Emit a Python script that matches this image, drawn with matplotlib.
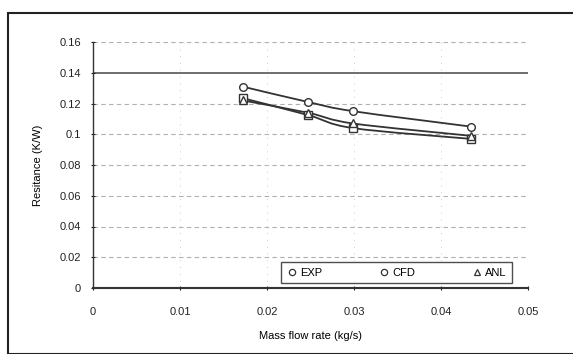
import matplotlib
matplotlib.use("Agg")
import matplotlib.pyplot as plt
from matplotlib.path import Path
from matplotlib.patches import PathPatch, Rectangle
from matplotlib.lines import Line2D

plt.rcParams['font.family'] = ['Liberation Sans', 'DejaVu Sans']

mass_flow = [0.0172, 0.0247, 0.0299, 0.0434]
exp_vals = [0.131, 0.121, 0.115, 0.105]
cfd_vals = [0.1235, 0.1125, 0.104, 0.097]
anl_vals = [0.122, 0.114, 0.107, 0.099]
series_names = ["EXP", "CFD", "ANL"]
x_ticks = [0, 0.01, 0.02, 0.03, 0.04, 0.05]
x_ticklabels = ["0", "0.01", "0.02", "0.03", "0.04", "0.05"]
y_ticks = [0, 0.02, 0.04, 0.06, 0.08, 0.1, 0.12, 0.14, 0.16]
y_ticklabels = ["0", "0.02", "0.04", "0.06", "0.08", "0.1", "0.12", "0.14", "0.16"]

fig = plt.figure(figsize=(5.73, 3.54), dpi=100)
ax = fig.add_axes([93/573, 1-288/354, 435/573, 246/354])

def smooth_path(xs, ys):
    # Catmull-Rom style Bezier through the data points (Excel-like smoothing)
    n = len(xs)
    verts = [(xs[0], ys[0])]
    codes = [Path.MOVETO]
    for i in range(n-1):
        x0, y0 = (xs[i-1], ys[i-1]) if i > 0 else (xs[i], ys[i])
        x1, y1 = xs[i], ys[i]
        x2, y2 = xs[i+1], ys[i+1]
        x3, y3 = (xs[i+2], ys[i+2]) if i+2 < n else (xs[i+1], ys[i+1])
        t = 1/6
        c1 = (x1 + (x2-x0)*t, y1 + (y2-y0)*t)
        c2 = (x2 - (x3-x1)*t, y2 - (y3-y1)*t)
        verts += [c1, c2, (x2, y2)]
        codes += [Path.CURVE4]*3
    return Path(verts, codes)

markers = ['o', 's', '^']
for vals, m in zip([exp_vals, cfd_vals, anl_vals], markers):
    ax.add_patch(PathPatch(smooth_path(mass_flow, vals), facecolor='none',
                           edgecolor='#333333', lw=1.3, zorder=3))
    ax.plot(mass_flow, vals, linestyle='none', marker=m, markersize=5.5,
            markerfacecolor='white', markeredgecolor='#333333', markeredgewidth=1.0, zorder=4)

ax.set_xlim(0, 0.05)
ax.set_ylim(0, 0.16)
ax.set_xticks(x_ticks)
ax.set_xticklabels(x_ticklabels)
ax.set_yticks(y_ticks)
ax.set_yticklabels(y_ticklabels)
ax.tick_params(labelsize=8, length=3, width=0.8, direction='inout', colors='#222222')
ax.tick_params(axis='x', pad=12)
ax.tick_params(axis='y', pad=7)

for yv in y_ticks[1:]:
    if abs(yv - 0.14) < 1e-9:
        ax.axhline(yv, color='#555555', lw=1.2, zorder=1)
    else:
        ax.axhline(yv, color='#b0b0b0', lw=0.8, linestyle=(0, (4, 3)), zorder=1)
for xv in x_ticks[1:-1]:
    ax.axvline(xv, color='#cccccc', lw=0.7, linestyle=(0, (1, 6)), zorder=1)

for s in ['top', 'right']:
    ax.spines[s].set_visible(False)
ax.spines['left'].set_color('#333333')
ax.spines['bottom'].set_color('#333333')
ax.spines['left'].set_linewidth(1.0)
ax.spines['bottom'].set_linewidth(1.5)

ax.set_xlabel("Mass flow rate (kg/s)", fontsize=8, labelpad=10)
ax.set_ylabel("Resitance (K/W)", fontsize=8, labelpad=12)

handles = [Line2D([], [], linestyle='none', marker=mk, markersize=4.5,
                  markerfacecolor='white', markeredgecolor='#333333', markeredgewidth=0.9)
           for mk in ['o', 'o', '^']]
leg = ax.legend(handles, series_names, ncol=3, loc='lower right',
                bbox_to_anchor=(0.963, 0.02), borderaxespad=0, fontsize=8, frameon=True,
                fancybox=False, edgecolor='#222222', columnspacing=5.1,
                handletextpad=0.2, handlelength=1.0, borderpad=0.5)
leg.get_frame().set_linewidth(1.0)

fig.patches.append(Rectangle((8/573, 0), 1, 1-13/354, transform=fig.transFigure,
                             fill=False, edgecolor='#222222', lw=1.5))

fig.savefig("out.png", dpi=100)
